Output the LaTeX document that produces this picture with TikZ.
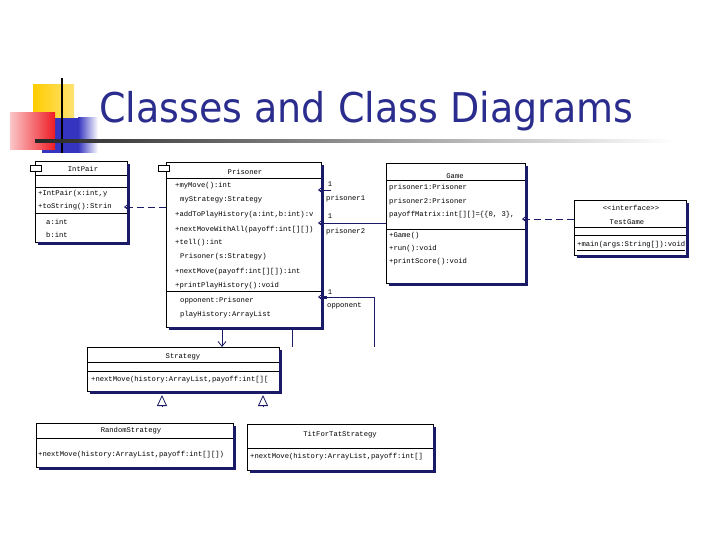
\documentclass[tikz,border=0pt]{standalone}
\usepackage{fontspec}
\usepackage{graphicx}
\usetikzlibrary{arrows.meta,calc}
\setmainfont{DejaVu Sans}
\newfontfamily\umlfont{Liberation Mono}
\definecolor{titleblue}{HTML}{2B2D8E}
\definecolor{navy}{HTML}{1A1A66}
\definecolor{decoyellow}{HTML}{FFCC00}
\definecolor{decored}{HTML}{EE1C24}
\definecolor{decoblue}{HTML}{3434C0}
\newcommand\shadowbox[1]{%
  \fill[navy] ($(#1.north east)+(0,3)$) rectangle ($(#1.south east)+(3,3)$);
  \fill[navy] ($(#1.south west)+(3,0)$) rectangle ($(#1.south east)+(3,3)$);}
\tikzset{
  umlbox/.style={draw=black, line width=0.8pt, fill=white, inner sep=0pt, outer sep=0pt, anchor=north west},
  txt/.style={font=\umlfont\fontsize{7.2}{8}\selectfont, inner sep=0pt, anchor=west, text=black},
  ctxt/.style={font=\umlfont\fontsize{7.2}{8}\selectfont, inner sep=0pt, text=black},
  sepline/.style={draw=black, line width=0.6pt},
  conn/.style={draw=navy, line width=0.8pt},
  assoc/.style={conn, -{Straight Barb[length=5pt,width=8pt]}},
  toshadow/.style={shorten >=-3pt},
  dep/.style={assoc, dash pattern=on 7pt off 4pt},
  gen/.style={conn, -{Triangle[open,length=11pt,width=10pt]}},
  icon/.style={draw=black, line width=0.7pt, fill=white, inner sep=0pt, outer sep=0pt, minimum width=11pt, minimum height=6pt},
}
\begin{document}
\begin{tikzpicture}[x=1pt,y=-1pt]
\fill[white] (0,0) rectangle (720,540);
\useasboundingbox (0,0) rectangle (720,540);
% ---------- title decoration ----------
\shade[left color=decoyellow, right color=decoyellow!55!white] (33,85) rectangle (74,128);
\fill[decoblue] (42,118) rectangle (78,153);
\shade[left color=decoblue, right color=white] (78,118) rectangle (98,153);
\shade[left color=decored!25!white, right color=decored] (10,113) rectangle (55,150);
\draw[black, line width=1.6pt] (62,78) -- (62,153);
\shade[left color=black!85, right color=white] (35,140) rectangle (675,142.6);
\node[anchor=base west, inner sep=0pt, text=titleblue, font=\fontsize{41}{45}\selectfont] (title) at (99,123)
  {\resizebox{534pt}{\height}{Classes and Class Diagrams}};
% ---------- helper coordinates ----------
\coordinate (y207) at (0,207);
\coordinate (y219) at (0,219);
\coordinate (y223) at (0,223);
\coordinate (x222) at (222,0);
\coordinate (x292) at (292,0);
% ---------- IntPair ----------
\node[umlbox, minimum width=92pt, minimum height=81pt] (intpair) at (35,161) {};
\shadowbox{intpair}
\node[icon] (intpairicon) at (36,168) {};
\node[ctxt] (ipname) at (83,169) {IntPair};
\draw[sepline] (35,175) -- (127,175);
\draw[sepline] (35,187) -- (127,187);
\node[txt] (ip1) at (38,194) {+IntPair(x:int,y};
\node[txt] (ip2) at (38,207) {+toString():Strin};
\draw[sepline] (35,213) -- (127,213);
\node[txt] (ip3) at (46,222) {a:int};
\node[txt] (ip4) at (46,235) {b:int};
% ---------- Prisoner ----------
\node[umlbox, minimum width=155pt, minimum height=165pt] (prisoner) at (166,162) {};
\shadowbox{prisoner}
\node[icon] (prisonericon) at (164,168) {};
\node[ctxt] (prname) at (245,172) {Prisoner};
\draw[sepline] (166,178) -- (321,178);
\node[txt] (pr1) at (175,186) {+myMove():int};
\node[txt] (pr2) at (180,200) {myStrategy:Strategy};
\node[txt] (pr3) at (175,215) {+addToPlayHistory(a:int,b:int):v};
\node[txt] (pr4) at (175,230) {+nextMoveWithAll(payoff:int[][])};
\node[txt] (pr5) at (175,243) {+tell():int};
\node[txt] (pr6) at (180,257) {Prisoner(s:Strategy)};
\node[txt] (pr7) at (175,272) {+nextMove(payoff:int[][]):int};
\node[txt] (pr8) at (175,286) {+printPlayHistory():void};
\draw[sepline] (166,291) -- (321,291);
\node[txt] (pr9) at (180,301) {opponent:Prisoner};
\node[txt] (pr10) at (180,315) {playHistory:ArrayList};
% ---------- Game ----------
\node[umlbox, minimum width=139pt, minimum height=120pt] (game) at (386,163) {};
\shadowbox{game}
\node[ctxt] (gname) at (455,176) {Game};
\draw[sepline] (386,180) -- (525,180);
\node[txt] (g1) at (389,188) {prisoner1:Prisoner};
\node[txt] (g2) at (389,202) {prisoner2:Prisoner};
\node[txt] (g3) at (389,215) {payoffMatrix:int[][]=\{\{0, 3\},};
\draw[sepline] (386,229) -- (525,229);
\node[txt] (g4) at (389,236) {+Game()};
\node[txt] (g5) at (389,249) {+run():void};
\node[txt] (g6) at (389,262) {+printScore():void};
% ---------- TestGame ----------
\node[umlbox, minimum width=112pt, minimum height=55pt] (testgame) at (574,200) {};
\shadowbox{testgame}
\node[ctxt] (tgst) at (631,208) {<<interface>>};
\node[ctxt] (tgname) at (627,222) {TestGame};
\draw[sepline] (574,227) -- (686,227);
\draw[sepline] (574,235) -- (686,235);
\node[txt] (tg1) at (577,246) {\underline{+main(args:String[]):void}};
% ---------- Strategy ----------
\node[umlbox, minimum width=192pt, minimum height=44pt] (strategy) at (87,347) {};
\shadowbox{strategy}
\node[ctxt] (sname) at (183,357) {Strategy};
\draw[sepline] (87,362) -- (279,362);
\draw[sepline] (87,371) -- (279,371);
\node[txt] (s1) at (91,380) {+nextMove(history:ArrayList,payoff:int[][};
% ---------- RandomStrategy ----------
\node[umlbox, minimum width=197pt, minimum height=44pt] (random) at (36,423) {};
\shadowbox{random}
\node[ctxt] (rname) at (131,431) {RandomStrategy};
\draw[sepline] (36,438) -- (233,438);
\node[txt] (r1) at (38,455) {+nextMove(history:ArrayList,payoff:int[][])};
% ---------- TitForTatStrategy ----------
\node[umlbox, minimum width=186pt, minimum height=46pt] (tft) at (247,424) {};
\shadowbox{tft}
\node[ctxt] (tname) at (340,435) {TitForTatStrategy};
\draw[sepline] (247,448) -- (433,448);
\node[txt] (t1) at (250,457) {+nextMove(history:ArrayList,payoff:int[]};
% ---------- connectors ----------
% Prisoner uses IntPair
\draw[dep, toshadow] (prisoner.west |- y207) -- (intpair.east |- y207);
% TestGame uses Game
\draw[dep, toshadow] (testgame.west |- y219) -- (game.east |- y219);
% Game -> Prisoner (prisoner2)
\draw[assoc, toshadow] (game.west |- y223) -- (prisoner.east |- y223);
\node[ctxt] (m2) at (330,216) {1};
\node[txt] (r2) at (326,232) {prisoner2};
% Game -> Prisoner (prisoner1)
\coordinate (p1tail) at (331,190);
\draw[assoc, toshadow] (p1tail) -- (p1tail -| prisoner.east);
\node[ctxt] (m1) at (330,184) {1};
\node[txt] (r1lab) at (326,199) {prisoner1};
% Prisoner -> Prisoner (opponent)
\coordinate (oppend) at (374,347);
\coordinate (oppcorner) at (374,297);
\draw[assoc, toshadow] (oppend) -- (oppcorner) -- (oppcorner -| prisoner.east);
\fill[navy] (323.5,295.5) rectangle (326.5,298.5);
\node[ctxt] (m3) at (330,292) {1};
\node[txt] (r3) at (327,306) {opponent};
% Prisoner -> Strategy
\draw[assoc] (x222 |- prisoner.south) -- (x222 |- strategy.north);
\coordinate (linebot) at (292,347);
\draw[conn] (x292 |- prisoner.south) -- (linebot);
% generalization heads
\coordinate (g1tail) at (162,407);
\coordinate (g1tip) at (162,395);
\draw[gen] (g1tail) -- (g1tip);
\coordinate (g2tail) at (263,407);
\coordinate (g2tip) at (263,395);
\draw[gen] (g2tail) -- (g2tip);
\end{tikzpicture}
\end{document}
